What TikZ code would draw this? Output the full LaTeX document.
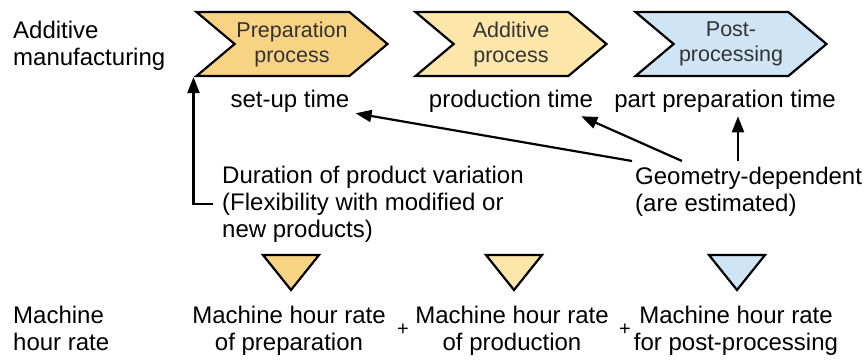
\documentclass[tikz,border=0pt]{standalone}
\usepackage{fontspec}
\setmainfont{Liberation Sans}
\usepackage{tikz}
\usetikzlibrary{shapes.symbols, positioning, calc, arrows.meta}
\definecolor{prepfill}{HTML}{F9D384}
\definecolor{addfill}{HTML}{FDE6A9}
\definecolor{postfill}{HTML}{CFE5F5}
\definecolor{boxtext}{HTML}{333333}
\tikzset{
  phase/.style={shape=signal, signal from=west, signal to=east, signal pointer angle=80,
    draw=black, line width=2.2pt, minimum width=191pt, minimum height=64pt, inner sep=0pt,
    align=center, text=boxtext, font=\fontsize{21.5}{25}\selectfont},
  lbl/.style={inner sep=0pt, align=center, font=\fontsize{24}{27}\selectfont},
  arr/.style={line width=2.2pt, -{Triangle[length=16pt,width=12pt]}},
  tri/.style={draw=black, line width=2.2pt, line join=miter}
}
\begin{document}
\begin{tikzpicture}[x=1pt, y=-1pt]
    \useasboundingbox (0,0) rectangle (868,360);
    % Process chain
    \node[lbl, align=left, anchor=north west] (am) at (13,20.7) {Additive\\manufacturing};
    \node[phase, fill=prepfill] (prep) at (292,44) {Preparation\\process};
    \node[phase, fill=addfill] (add) at (511,44) {Additive\\process};
    \node[phase, fill=postfill] (post) at (731,44) {Post-\\processing};

    % Times
    \node[lbl, anchor=north] (setup) at (290,89.5) {set-up time};
    \node[lbl, anchor=north] (prodtime) at (511,89.5) {production time};
    \node[lbl, anchor=north] (parttime) at (725,89.5) {part preparation time};

    \node[lbl, align=left, anchor=north west] (duration) at (222,165.7)
        {Duration of product variation\\(Flexibility with modified or\\new products)};
    \node[lbl, align=left, anchor=north west] (geom) at (635,166.7)
        {Geometry-dependent\\(are estimated)};

    \draw[arr] ([xshift=-9pt]duration.west) -| (prep.south west);
    \draw[arr] ([xshift=-3pt, yshift=5.7pt]geom.north west) -- ([xshift=6pt, yshift=-1pt]setup.south east);
    \draw[arr] ([xshift=47pt, yshift=5.7pt]geom.north west) -- ([xshift=-12pt, yshift=-4pt]prodtime.south east);
    \draw[arr] ([xshift=103pt, yshift=5.7pt]geom.north west) -- ([xshift=13pt, yshift=-4pt]parttime.south);

    % Machine hour rates
    \foreach \x/\c in {291/prepfill, 514/addfill, 737/postfill}
        \draw[tri, fill=\c] (\x-28,255) -- (\x+28,255) -- (\x,290) -- cycle;

    \node[lbl, align=left, anchor=north west] (mhr) at (13,305.7) {Machine\\hour rate};
    \node[lbl, anchor=north] (rate1) at (289,305.7) {Machine hour rate\\of preparation};
    \node[lbl, anchor=north] (rate2) at (512,305.7) {Machine hour rate\\of production};
    \node[lbl, anchor=north] (rate3) at (736,305.7) {Machine hour rate\\for post-processing};
    \node[lbl, font=\fontsize{20}{22}\selectfont] (plus1) at (403,330) {+};
    \node[lbl, font=\fontsize{20}{22}\selectfont] (plus2) at (625,330) {+};
\end{tikzpicture}
\end{document}
